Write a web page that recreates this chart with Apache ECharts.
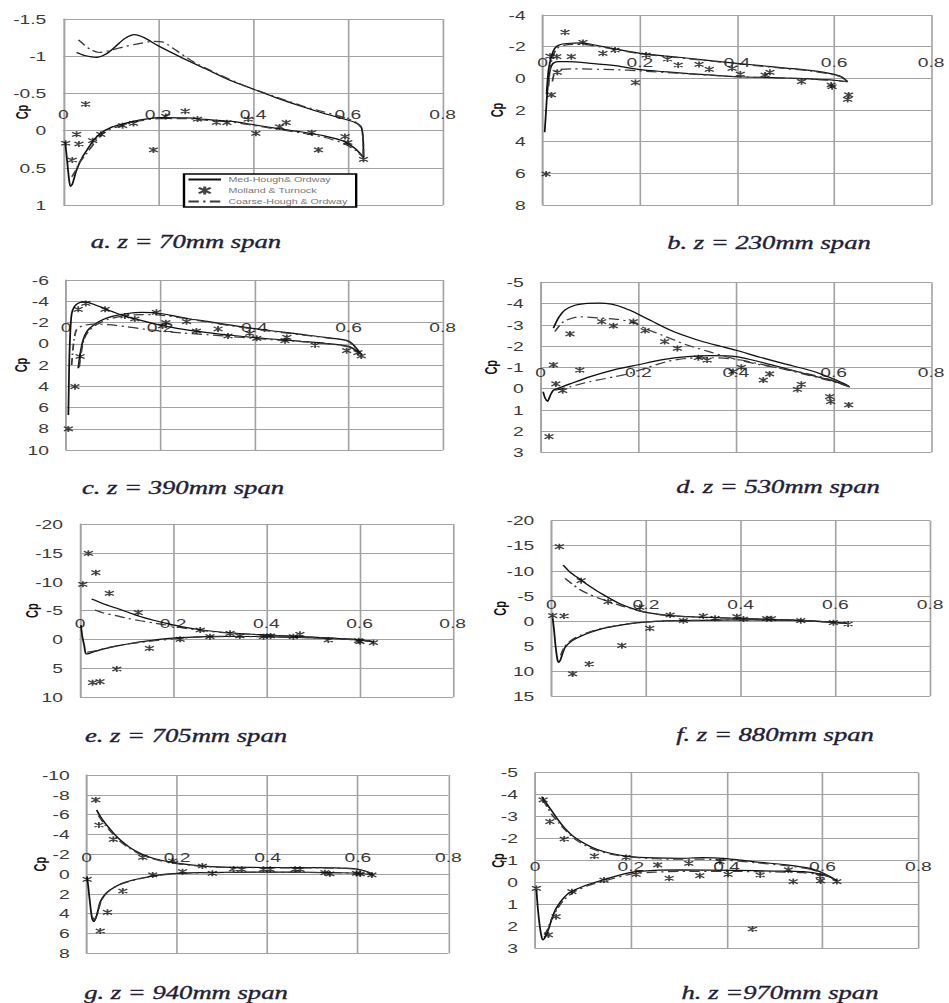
<!DOCTYPE html>
<html>
<head>
<meta charset="utf-8">
<script src="https://cdn.jsdelivr.net/npm/echarts@6/dist/echarts.min.js"></script>
<style>
  html, body { margin: 0; padding: 0; background: #fff; overflow: hidden; }
  /* the figure is laid out narrow and widened horizontally, giving its wide lettering */
  #chart { width: 641px; height: 1003px; transform: scaleX(1.48050); transform-origin: 0 0; }
</style>
</head>
<body>
<div id="chart"></div>
<script>
// ---------- pressure coefficient data, chordwise position x vs Cp ----------
// a. z = 70mm
const aMedUp = [[0.028,-1.05],[0.045,-1.01],[0.07,-0.985],[0.09,-1.03],[0.11,-1.13],[0.13,-1.24],[0.15,-1.29],[0.17,-1.25],[0.2,-1.14],[0.25,-0.98],[0.3,-0.83],[0.35,-0.68],[0.4,-0.56],[0.45,-0.44],[0.5,-0.33],[0.55,-0.23],[0.59,-0.16],[0.615,-0.11],[0.628,-0.05],[0.632,0.1],[0.633,0.36]];
const aMedLow = [[0.004,0.15],[0.008,0.4],[0.012,0.65],[0.015,0.75],[0.019,0.72],[0.028,0.53],[0.04,0.36],[0.05,0.26],[0.065,0.12],[0.08,0.03],[0.1,-0.04],[0.12,-0.08],[0.16,-0.14],[0.2,-0.175],[0.26,-0.17],[0.3,-0.15],[0.36,-0.12],[0.4,-0.08],[0.45,-0.03],[0.5,0.015],[0.55,0.07],[0.59,0.14],[0.615,0.24],[0.633,0.36]];
const aCoarseUp = [[0.032,-1.22],[0.045,-1.15],[0.06,-1.08],[0.075,-1.05],[0.1,-1.08],[0.13,-1.13],[0.16,-1.17],[0.19,-1.2],[0.21,-1.19],[0.24,-1.07],[0.27,-0.94],[0.3,-0.84],[0.35,-0.69],[0.4,-0.56],[0.45,-0.45],[0.5,-0.34],[0.55,-0.25],[0.59,-0.18],[0.615,-0.12],[0.628,-0.04],[0.632,0.1],[0.633,0.36]];
const aCoarseLow = [[0.018,0.62],[0.025,0.55],[0.035,0.42],[0.05,0.3],[0.065,0.17],[0.08,0.06],[0.1,-0.02],[0.13,-0.08],[0.16,-0.13],[0.2,-0.16],[0.26,-0.16],[0.3,-0.14],[0.36,-0.11],[0.4,-0.07],[0.45,-0.02],[0.5,0.03],[0.55,0.09],[0.59,0.17],[0.615,0.26],[0.633,0.36]];
const aExp = [[0.005,0.17],[0.019,0.395],[0.028,0.05],[0.033,0.18],[0.047,-0.357],[0.062,0.135],[0.079,0.05],[0.125,-0.066],[0.148,-0.097],[0.19,0.26],[0.216,-0.19],[0.257,-0.26],[0.283,-0.155],[0.323,-0.11],[0.345,-0.107],[0.39,-0.155],[0.406,0.037],[0.456,-0.05],[0.47,-0.107],[0.524,0.028],[0.538,0.26],[0.594,0.08],[0.6,0.16],[0.633,0.386]];

// b. z = 230mm
const bMedUp = [[0.008,1.0],[0.012,-0.5],[0.018,-1.4],[0.025,-1.9],[0.035,-2.12],[0.05,-2.2],[0.08,-2.24],[0.1,-2.15],[0.15,-1.85],[0.2,-1.58],[0.25,-1.42],[0.3,-1.27],[0.35,-1.1],[0.4,-0.95],[0.45,-0.8],[0.5,-0.65],[0.55,-0.5],[0.58,-0.38],[0.6,-0.25],[0.615,-0.1],[0.628,0.21]];
const bMedLow = [[0.004,3.4],[0.006,2.5],[0.008,1.5],[0.011,0.3],[0.015,-0.5],[0.02,-0.9],[0.03,-1.05],[0.05,-1.05],[0.1,-0.95],[0.15,-0.8],[0.2,-0.55],[0.25,-0.42],[0.3,-0.3],[0.35,-0.2],[0.4,-0.1],[0.45,-0.06],[0.5,-0.02],[0.55,0.04],[0.6,0.12],[0.628,0.21]];
const bCoarseUp = [[0.012,0.5],[0.016,-0.8],[0.022,-1.5],[0.03,-1.9],[0.045,-2.1],[0.07,-2.15],[0.1,-2.08],[0.15,-1.82],[0.2,-1.55],[0.3,-1.24],[0.4,-0.92],[0.5,-0.62],[0.55,-0.47],[0.6,-0.22],[0.615,-0.08],[0.628,0.21]];
const bCoarseLow = [[0.02,0.2],[0.025,-0.4],[0.035,-0.56],[0.06,-0.6],[0.1,-0.58],[0.15,-0.55],[0.2,-0.47],[0.3,-0.28],[0.4,-0.1],[0.5,-0.01],[0.6,0.13],[0.628,0.21]];
const bExp = [[0.007,6.04],[0.018,1.05],[0.015,-1.4],[0.029,-1.37],[0.03,-0.38],[0.046,-2.91],[0.059,-1.37],[0.083,-2.27],[0.124,-1.58],[0.149,-1.79],[0.191,0.27],[0.213,-1.47],[0.257,-1.22],[0.279,-0.84],[0.322,-0.88],[0.343,-0.57],[0.39,-0.63],[0.407,-0.27],[0.458,-0.21],[0.468,-0.38],[0.533,0.21],[0.594,0.42],[0.596,0.53],[0.628,1.33],[0.63,1.05]];

// c. z = 390mm
const cMedUp = [[0.005,6.7],[0.006,4],[0.007,1.5],[0.009,-1],[0.012,-2.8],[0.018,-3.5],[0.028,-3.85],[0.04,-3.95],[0.06,-3.7],[0.08,-3.35],[0.1,-3.0],[0.125,-2.6],[0.15,-2.3],[0.2,-1.75],[0.25,-1.35],[0.3,-1.05],[0.35,-0.8],[0.4,-0.58],[0.45,-0.4],[0.5,-0.22],[0.55,-0.05],[0.6,0.25],[0.625,0.9]];
const cMedLow = [[0.026,2.3],[0.03,1.0],[0.036,-0.3],[0.045,-1.2],[0.06,-1.8],[0.08,-2.3],[0.1,-2.6],[0.13,-2.85],[0.16,-2.95],[0.19,-2.92],[0.22,-2.7],[0.26,-2.35],[0.3,-2.1],[0.35,-1.75],[0.4,-1.42],[0.45,-1.15],[0.5,-0.88],[0.55,-0.6],[0.6,-0.25],[0.625,0.9]];
const cCoarseUp = [[0.012,2.0],[0.016,0],[0.022,-1.3],[0.035,-1.7],[0.06,-1.85],[0.09,-1.8],[0.13,-1.6],[0.17,-1.35],[0.2,-1.2],[0.25,-1.0],[0.3,-0.85],[0.35,-0.68],[0.4,-0.5],[0.45,-0.35],[0.5,-0.2],[0.55,-0.02],[0.6,0.28],[0.625,0.9]];
const cCoarseLow = [[0.028,2.2],[0.032,0.9],[0.038,-0.4],[0.048,-1.2],[0.065,-1.8],[0.09,-2.3],[0.12,-2.6],[0.16,-2.75],[0.2,-2.7],[0.25,-2.4],[0.3,-2.05],[0.35,-1.7],[0.4,-1.38],[0.45,-1.1],[0.5,-0.84],[0.55,-0.57],[0.6,-0.22],[0.625,0.9]];
const cExp = [[0.005,8.02],[0.019,4.04],[0.03,1.2],[0.026,-3.24],[0.042,-3.8],[0.083,-3.24],[0.125,-2.61],[0.146,-2.33],[0.192,-2.96],[0.205,-1.67],[0.212,-1.98],[0.256,-2.08],[0.277,-1.2],[0.323,-1.39],[0.344,-0.73],[0.39,-0.98],[0.405,-0.51],[0.465,-0.29],[0.469,-0.6],[0.529,0.12],[0.596,0.65],[0.62,0.84],[0.627,1.15]];

// d. z = 530mm
const dMedUp = [[0.026,-2.84],[0.036,-3.31],[0.05,-3.7],[0.07,-3.92],[0.09,-4.0],[0.12,-4.02],[0.145,-3.97],[0.17,-3.8],[0.2,-3.5],[0.23,-3.15],[0.265,-2.76],[0.3,-2.45],[0.333,-2.2],[0.37,-1.98],[0.4,-1.8],[0.45,-1.47],[0.5,-1.16],[0.54,-0.93],[0.57,-0.72],[0.6,-0.45],[0.62,-0.25],[0.633,-0.08]];
const dMedLow = [[0.005,0.15],[0.009,0.45],[0.014,0.6],[0.02,0.3],[0.026,0.08],[0.04,-0.05],[0.06,-0.22],[0.1,-0.55],[0.15,-0.88],[0.2,-1.12],[0.25,-1.36],[0.3,-1.5],[0.35,-1.55],[0.4,-1.5],[0.45,-1.25],[0.5,-0.95],[0.55,-0.65],[0.6,-0.35],[0.633,-0.08]];
const dCoarseUp = [[0.029,-2.68],[0.04,-3.0],[0.05,-3.2],[0.08,-3.38],[0.12,-3.32],[0.16,-3.25],[0.19,-3.1],[0.217,-2.8],[0.25,-2.5],[0.3,-2.05],[0.35,-1.7],[0.4,-1.38],[0.45,-1.12],[0.5,-0.92],[0.55,-0.68],[0.6,-0.38],[0.633,-0.08]];
const dCoarseLow = [[0.03,0.08],[0.06,-0.08],[0.1,-0.32],[0.15,-0.55],[0.18,-0.7],[0.22,-1.0],[0.26,-1.28],[0.3,-1.42],[0.35,-1.45],[0.4,-1.38],[0.45,-1.15],[0.5,-0.9],[0.55,-0.62],[0.6,-0.32],[0.633,-0.08]];
const dExp = [[0.017,2.26],[0.026,-1.11],[0.031,-0.22],[0.045,0.1],[0.06,-2.57],[0.08,-0.87],[0.125,-3.15],[0.149,-2.95],[0.19,-3.15],[0.214,-2.73],[0.254,-2.21],[0.28,-1.89],[0.323,-1.45],[0.341,-1.34],[0.394,-0.8],[0.411,-1.0],[0.456,-0.4],[0.469,-0.69],[0.526,0.04],[0.534,-0.2],[0.592,0.38],[0.594,0.62],[0.631,0.77]];

// e. z = 705mm
const eMedUp = [[0.025,-7.0],[0.05,-6.2],[0.079,-5.4],[0.1,-4.8],[0.129,-4.0],[0.16,-3.3],[0.186,-2.8],[0.22,-2.2],[0.258,-1.7],[0.3,-1.3],[0.35,-1.0],[0.4,-0.8],[0.45,-0.6],[0.5,-0.4],[0.55,-0.2],[0.6,0.05],[0.63,0.4]];
const eMedLow = [[0.002,-2.5],[0.005,-0.5],[0.009,1.0],[0.013,2.5],[0.02,2.4],[0.043,1.8],[0.08,1.1],[0.114,0.6],[0.15,0.2],[0.186,-0.15],[0.25,-0.45],[0.3,-0.55],[0.4,-0.5],[0.5,-0.3],[0.55,-0.15],[0.6,0.1],[0.63,0.4]];
const eCoarseUp = [[0.032,-5.1],[0.05,-4.6],[0.079,-4.1],[0.1,-3.7],[0.129,-3.25],[0.16,-2.85],[0.186,-2.5],[0.22,-2.0],[0.258,-1.6],[0.3,-1.25],[0.35,-0.98],[0.4,-0.78],[0.45,-0.58],[0.5,-0.38],[0.55,-0.2],[0.6,0.05],[0.63,0.4]];
const eCoarseLow = [[0.015,2.2],[0.03,2.0],[0.06,1.4],[0.1,0.8],[0.15,0.3],[0.2,-0.1],[0.25,-0.4],[0.3,-0.5],[0.4,-0.48],[0.5,-0.3],[0.6,0.1],[0.63,0.4]];
const eExp = [[0.006,-9.56],[0.018,-14.92],[0.034,-11.58],[0.063,-8.0],[0.125,-4.65],[0.027,7.46],[0.043,7.29],[0.079,5.1],[0.149,1.52],[0.215,-0.04],[0.258,-1.65],[0.279,-0.5],[0.322,-1.08],[0.343,-0.62],[0.394,-0.5],[0.409,-0.62],[0.458,-0.5],[0.472,-0.9],[0.533,0.08],[0.598,0.19],[0.601,0.37],[0.63,0.54]];

// f. z = 880mm
const fMedUp = [[0.025,-11.15],[0.04,-9.7],[0.061,-8.3],[0.08,-7.0],[0.11,-5.2],[0.145,-3.4],[0.17,-2.5],[0.194,-1.85],[0.22,-1.4],[0.251,-1.05],[0.3,-0.8],[0.35,-0.65],[0.4,-0.5],[0.462,-0.3],[0.532,-0.05],[0.6,0.3],[0.624,0.5]];
const fMedLow = [[0.003,-0.5],[0.006,2],[0.009,5],[0.013,7.8],[0.016,8.3],[0.02,7.6],[0.029,5.3],[0.045,3.9],[0.061,3.1],[0.085,2.2],[0.11,1.5],[0.15,0.8],[0.18,0.4],[0.22,0.1],[0.26,-0.05],[0.35,-0.15],[0.45,-0.2],[0.53,-0.05],[0.6,0.3],[0.624,0.5]];
const fCoarseUp = [[0.029,-8.5],[0.045,-7.3],[0.061,-6.2],[0.08,-5.3],[0.11,-4.2],[0.145,-3.1],[0.17,-2.4],[0.194,-1.8],[0.22,-1.35],[0.251,-1.0],[0.3,-0.78],[0.4,-0.48],[0.5,-0.2],[0.6,0.3],[0.624,0.5]];
const fCoarseLow = [[0.02,6.9],[0.029,5.0],[0.045,3.7],[0.061,2.9],[0.085,2.1],[0.11,1.4],[0.15,0.75],[0.18,0.38],[0.22,0.1],[0.26,-0.05],[0.35,-0.15],[0.45,-0.2],[0.53,-0.05],[0.6,0.3],[0.624,0.5]];
const fExp = [[0.003,-1.04],[0.017,-14.81],[0.027,-0.97],[0.045,10.6],[0.063,-8.02],[0.08,8.61],[0.12,-3.83],[0.149,4.95],[0.187,-2.7],[0.208,1.49],[0.251,-1.17],[0.279,-0.04],[0.321,-0.97],[0.346,-0.5],[0.392,-0.84],[0.406,-0.37],[0.455,-0.44],[0.465,-0.44],[0.527,-0.04],[0.596,0.36],[0.627,0.63]];

// g. z = 940mm
const gMedUp = [[0.022,-6.47],[0.033,-5.6],[0.044,-4.95],[0.06,-4.1],[0.074,-3.45],[0.095,-2.7],[0.118,-2.1],[0.14,-1.7],[0.162,-1.42],[0.199,-1.1],[0.251,-0.82],[0.3,-0.7],[0.4,-0.66],[0.5,-0.65],[0.55,-0.63],[0.59,-0.55],[0.61,-0.38],[0.625,-0.15],[0.634,0.09]];
const gMedLow = [[0.001,0.3],[0.004,1.5],[0.008,3.2],[0.012,4.5],[0.016,4.8],[0.022,4.2],[0.03,2.8],[0.04,2.1],[0.052,1.6],[0.075,1.0],[0.103,0.6],[0.14,0.25],[0.177,0.0],[0.25,-0.14],[0.4,-0.2],[0.5,-0.18],[0.55,-0.14],[0.6,-0.08],[0.634,0.09]];
const gCoarseUp = [[0.026,-5.9],[0.04,-5.0],[0.055,-4.2],[0.074,-3.3],[0.095,-2.6],[0.118,-2.0],[0.14,-1.62],[0.162,-1.36],[0.199,-1.05],[0.251,-0.8],[0.3,-0.68],[0.4,-0.63],[0.5,-0.62],[0.55,-0.6],[0.59,-0.52],[0.61,-0.36],[0.625,-0.14],[0.634,0.09]];
const gCoarseLow = [[0.012,4.3],[0.017,4.6],[0.024,3.9],[0.032,2.7],[0.042,2.0],[0.055,1.5],[0.08,0.95],[0.11,0.55],[0.15,0.2],[0.19,-0.02],[0.25,-0.13],[0.4,-0.18],[0.55,-0.13],[0.6,-0.07],[0.634,0.09]];
const gExp = [[0.001,0.53],[0.02,-7.48],[0.027,-4.95],[0.03,5.75],[0.046,3.86],[0.059,-3.51],[0.08,1.71],[0.124,-1.69],[0.146,0.09],[0.19,-1.32],[0.212,-0.24],[0.256,-0.81],[0.278,-0.07],[0.325,-0.51],[0.343,-0.48],[0.391,-0.48],[0.406,-0.48],[0.461,-0.48],[0.472,-0.48],[0.527,-0.14],[0.538,-0.01],[0.597,-0.07],[0.605,-0.01],[0.631,0.09]];

// h. z = 970mm
const hMedUp = [[0.014,-3.91],[0.022,-3.65],[0.031,-3.38],[0.045,-2.95],[0.059,-2.55],[0.08,-2.1],[0.108,-1.72],[0.13,-1.5],[0.157,-1.33],[0.198,-1.18],[0.25,-1.12],[0.3,-1.1],[0.35,-1.13],[0.393,-1.1],[0.456,-0.95],[0.525,-0.8],[0.574,-0.64],[0.602,-0.42],[0.62,-0.22],[0.63,-0.08]];
const hMedLow = [[0.003,0.34],[0.006,1.2],[0.01,2.0],[0.014,2.5],[0.017,2.62],[0.022,2.45],[0.028,2.15],[0.036,1.6],[0.045,1.15],[0.06,0.7],[0.073,0.45],[0.1,0.18],[0.143,-0.12],[0.198,-0.45],[0.25,-0.55],[0.3,-0.57],[0.42,-0.55],[0.5,-0.52],[0.56,-0.49],[0.6,-0.36],[0.62,-0.2],[0.63,-0.08]];
const hCoarseUp = [[0.017,-3.75],[0.025,-3.45],[0.035,-3.1],[0.05,-2.7],[0.065,-2.35],[0.085,-1.95],[0.11,-1.62],[0.135,-1.42],[0.16,-1.28],[0.2,-1.16],[0.25,-1.08],[0.3,-1.06],[0.35,-1.06],[0.4,-1.02],[0.46,-0.9],[0.525,-0.76],[0.574,-0.6],[0.602,-0.4],[0.62,-0.2],[0.63,-0.08]];
const hCoarseLow = [[0.02,2.4],[0.026,2.15],[0.034,1.7],[0.045,1.25],[0.06,0.8],[0.08,0.45],[0.11,0.15],[0.15,-0.1],[0.2,-0.38],[0.25,-0.47],[0.3,-0.5],[0.42,-0.5],[0.5,-0.48],[0.56,-0.45],[0.6,-0.34],[0.62,-0.19],[0.63,-0.08]];
const hExp = [[0.003,0.27],[0.017,-3.76],[0.028,2.39],[0.031,-2.77],[0.044,1.56],[0.061,-1.98],[0.077,0.42],[0.124,-1.2],[0.144,-0.11],[0.19,-1.14],[0.211,-0.37],[0.256,-0.8],[0.28,-0.19],[0.321,-0.87],[0.344,-0.31],[0.386,-0.95],[0.403,-0.37],[0.454,2.12],[0.47,-0.34],[0.529,-0.57],[0.539,-0.04],[0.595,-0.29],[0.596,-0.07],[0.63,-0.04]];

// ---------- axes and labels ----------
const xTicks = [0, 0.2, 0.4, 0.6, 0.8];
const cpMin  = [-1.5, -4, -6, -5, -20, -20, -10, -5];
const cpMax  = [1, 8, 10, 3, 10, 15, 8, 3];
const cpStep = [0.5, 2, 2, 1, 5, 5, 2, 1];
const captions = ['a. z = 70mm span', 'b. z = 230mm span', 'c. z = 390mm span', 'd. z = 530mm span',
                  'e. z = 705mm span', 'f. z = 880mm span', 'g. z = 940mm span', 'h. z =970mm span'];
const MED = 'Med-Hough& Ordway', EXP = 'Molland & Turnock', COARSE = 'Coarse-Hough & Ordway';

const medUp = [aMedUp, bMedUp, cMedUp, dMedUp, eMedUp, fMedUp, gMedUp, hMedUp];
const medLow = [aMedLow, bMedLow, cMedLow, dMedLow, eMedLow, fMedLow, gMedLow, hMedLow];
const coarseUp = [aCoarseUp, bCoarseUp, cCoarseUp, dCoarseUp, eCoarseUp, fCoarseUp, gCoarseUp, hCoarseUp];
const coarseLow = [aCoarseLow, bCoarseLow, cCoarseLow, dCoarseLow, eCoarseLow, fCoarseLow, gCoarseLow, hCoarseLow];
const expPts = [aExp, bExp, cExp, dExp, eExp, fExp, gExp, hExp];

// ---------- layout (page pixels; horizontal values are divided by the widening factor) ----------
const S = 949 / 641;
const boxes = [ // left, right, top, bottom on the final page
  [63.3, 442.7, 19, 205], [542.7, 934, 15, 205],
  [66, 442.7, 280, 450], [540.7, 931.7, 282.3, 452.3],
  [80, 452.7, 524, 697.3], [551.3, 930, 520.7, 696],
  [86.7, 448.3, 775, 953.3], [535, 918.3, 772.7, 948.3]
];
const nameGaps = [22, 25, 24.7, 27.8, 27, 29, 26.2, 19.7];
const capPos = [[186, 242], [769, 243], [183, 488], [778, 487], [186, 736], [775, 735], [186, 993], [780, 993]];

const GRID = '#a2a2a2';
const TICK_FONT = { fontFamily: 'Liberation Sans', fontSize: 13, color: '#3a3a3a' };
const STAR = 'path://M5,0L5,10M0,1.5L10,8.5M0,8.5L10,1.5';

const grid = [], xAxis = [], yAxis = [], series = [];
boxes.forEach(([l, r, t, b], i) => {
  const h = b - t;
  grid.push({ left: l / S, width: (r - l) / S, top: t, height: h });
  // the chord axis crosses the Cp axis at Cp = 0; its labels sit above that line
  const zeroDrop = h * (0 - cpMin[i]) / (cpMax[i] - cpMin[i]);
  xAxis.push({
    gridIndex: i, type: 'value', position: 'top', offset: -zeroDrop,
    min: xTicks[0], max: xTicks[xTicks.length - 1], interval: xTicks[1] - xTicks[0],
    axisLine: { onZero: false, lineStyle: { color: GRID, width: 1.1 } },
    axisTick: { show: false },
    axisLabel: Object.assign({ margin: 10 }, TICK_FONT),
    splitLine: { show: true, lineStyle: { color: GRID, width: 1.1 } }
  });
  yAxis.push({
    gridIndex: i, type: 'value', inverse: true, min: cpMin[i], max: cpMax[i], interval: cpStep[i],
    name: 'Cp', nameLocation: 'middle', nameRotate: 90, nameGap: nameGaps[i], nameMoveOverlap: false,
    nameTextStyle: { fontFamily: 'Liberation Sans', fontWeight: 'bold', fontSize: 11, color: '#111' },
    axisLine: { show: true, onZero: false, lineStyle: { color: GRID, width: 1.1 } },
    axisTick: { show: false },
    axisLabel: Object.assign({ margin: 11.5 }, TICK_FONT),
    splitLine: { show: true, lineStyle: { color: GRID, width: 1.1 } }
  });
  const lineBase = { type: 'line', xAxisIndex: i, yAxisIndex: i, symbol: 'none', smooth: 0.25,
                     silent: true, z: 3 };
  const medStyle = { color: '#111', width: 1.2 };
  const coarseStyle = { color: '#3a3a3a', width: 1.2, type: [7, 3, 1.5, 3] };
  series.push(Object.assign({ name: MED, data: medUp[i], lineStyle: medStyle, itemStyle: { color: '#111' } }, lineBase));
  series.push(Object.assign({ name: MED, data: medLow[i], lineStyle: medStyle, itemStyle: { color: '#111' } }, lineBase));
  series.push(Object.assign({ name: COARSE, data: coarseUp[i], lineStyle: coarseStyle, itemStyle: { color: '#3a3a3a' } }, lineBase));
  series.push(Object.assign({ name: COARSE, data: coarseLow[i], lineStyle: coarseStyle, itemStyle: { color: '#3a3a3a' } }, lineBase));
  series.push({
    type: 'scatter', name: EXP, xAxisIndex: i, yAxisIndex: i, data: expPts[i], silent: true, z: 4,
    symbol: STAR, symbolSize: [6, 6],
    itemStyle: { color: '#111', borderColor: '#111', borderWidth: 1.2 }
  });
});

const graphic = captions.map((t, i) => ({
  type: 'text', x: capPos[i][0] / S, y: capPos[i][1], silent: true,
  style: { text: t, font: 'italic 18px "Liberation Serif"', fill: '#1f1f3a',
           stroke: '#1f1f3a', lineWidth: 0.35,
           align: 'center', verticalAlign: 'middle', textAlign: 'center', textVerticalAlign: 'middle' }
}));

const chart = echarts.init(document.getElementById('chart'), null, { renderer: 'svg' });
chart.setOption({
  animation: false,
  backgroundColor: '#fff',
  grid, xAxis, yAxis, series, graphic,
  legend: {
    data: [
      { name: MED, itemStyle: { opacity: 0 } },
      { name: EXP },
      { name: COARSE, itemStyle: { opacity: 0 } }
    ],
    orient: 'vertical', left: 184 / S, top: 174,
    itemWidth: 22, itemHeight: 8, itemGap: 2.5, padding: [2, 6, 2, 2],
    borderColor: '#000', borderWidth: 1.6, backgroundColor: '#fff', selectedMode: false,
    textStyle: { fontFamily: 'Liberation Sans', fontSize: 7.2, color: '#777' }
  }
});
</script>
</body>
</html>
